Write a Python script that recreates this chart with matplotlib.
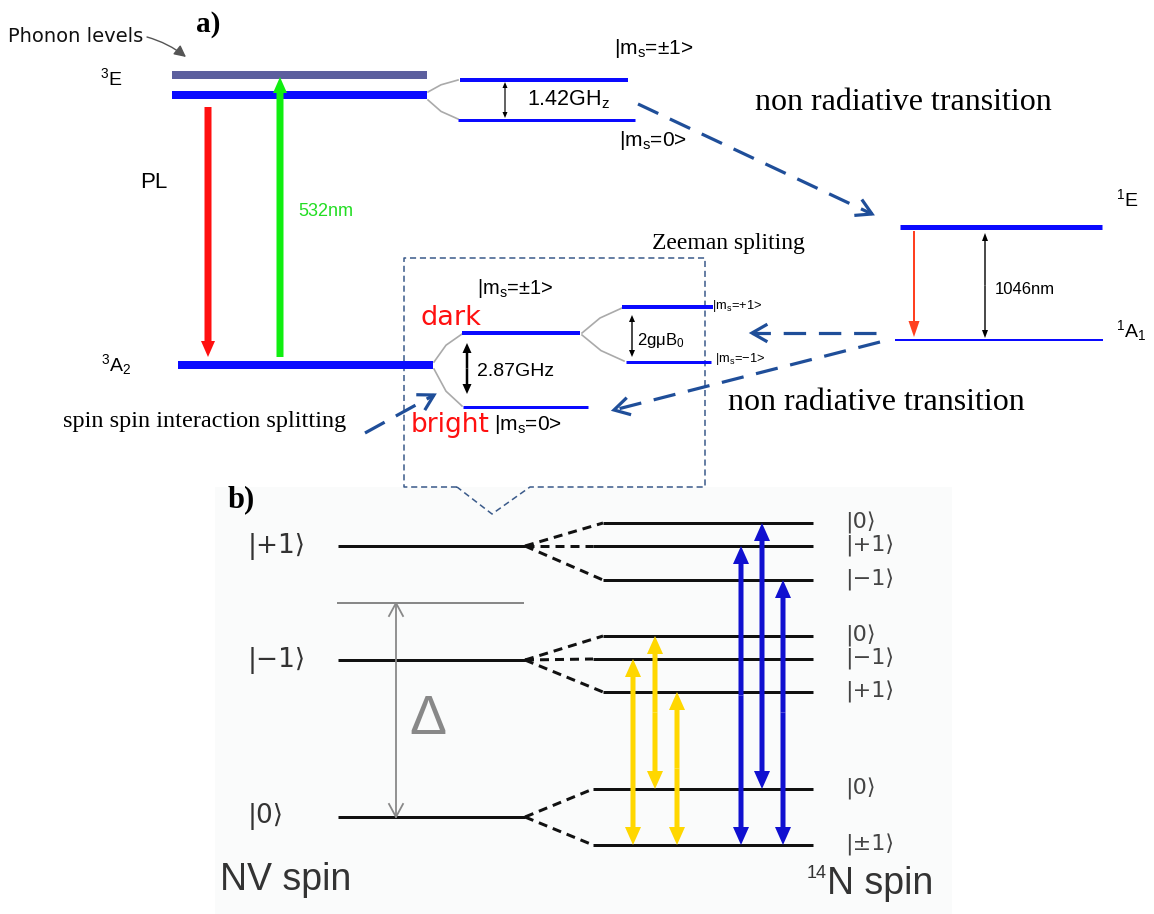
import numpy as np
import matplotlib
matplotlib.use("Agg")
import matplotlib.pyplot as plt
from matplotlib.patches import Rectangle

plt.rcParams['font.family'] = ['Liberation Sans', 'DejaVu Sans']
plt.rcParams['mathtext.fontset'] = 'custom'
plt.rcParams['mathtext.rm'] = 'Liberation Sans'
plt.rcParams['mathtext.it'] = 'Liberation Sans:italic'
plt.rcParams['mathtext.bf'] = 'Liberation Sans:bold'

# ---- panel a: energy levels (x start, x end, y, thickness in px) ----
lvl_a_names = ['phonon', '3E', 'E_pm1', 'E_0', '1E', '1A1', '3A2', 'dark', 'bright', 'ms+1', 'ms-1']
lvl_a_x0 = [172, 172, 460, 458, 900, 895, 178, 462, 463, 622, 626]
lvl_a_x1 = [427, 427, 628, 635, 1102, 1103, 433, 580, 588, 713, 711]
lvl_a_y = [75, 95, 80, 120, 227, 340, 365, 333, 407, 307, 362]
lvl_a_w = [8, 8, 4, 3, 5, 2, 8, 4, 3, 4, 3]

# gray splitting connectors
conn_a = [((428, 92), (458, 80)), ((428, 100), (458, 119)),
          ((434, 362), (462, 334)), ((434, 369), (462, 406)),
          ((582, 333), (622, 308)), ((582, 335), (624, 361))]

# non radiative transitions (start, tip)
nonrad = [((638, 104), (872, 214)), ((876, 333), (752, 333)),
          ((880, 342), (614, 410)), ((365, 433), (434, 395))]

# ---- panel b ----
nv_names = ['|+1\u27e9', '|\u22121\u27e9', '|0\u27e9']
nv_y = [546, 660, 817]
delta_y = 603
n_names = ['|0\u27e9', '|+1\u27e9', '|\u22121\u27e9', '|0\u27e9', '|\u22121\u27e9', '|+1\u27e9', '|0\u27e9', '|\u00b11\u27e9']
n_y = [523, 546, 580, 636, 659, 692, 789, 845]
n_x0 = [603, 593, 603, 603, 593, 603, 593, 593]
n_parent = [0, 0, 0, 1, 1, 1, 2, 2]
# transitions: x, lower y, upper y
yellow_x = [633, 655, 677]
yellow_lo = [845, 789, 845]
yellow_hi = [659, 636, 692]
blue_x = [741, 762, 783]
blue_lo = [845, 789, 845]
blue_hi = [546, 523, 580]

navy = '#1f4e99'

fig = plt.figure(figsize=(11.54, 9.14), dpi=100)
ax = fig.add_axes([0, 0, 1, 1])
ax.set_xlim(0, 1154)
ax.set_ylim(914, 0)
ax.axis('off')


def px(v):
    return v * 72 / 100


def v_arrow(x, y0, y1, w, hw, hl, color, both=False, z=3):
    if both:
        ym = (y0 + y1) / 2
        for ye in (y0, y1):
            ax.arrow(x, ym, 0, ye - ym, width=w, head_width=hw, head_length=hl,
                     length_includes_head=True, color=color, lw=0, zorder=z)
    else:
        ax.arrow(x, y0, 0, y1 - y0, width=w, head_width=hw, head_length=hl,
                 length_includes_head=True, color=color, lw=0, zorder=z)


def chevron(p0, p1, color, lw, L=14, W=8):
    p0, p1 = np.array(p0, float), np.array(p1, float)
    d = (p1 - p0) / np.linalg.norm(p1 - p0)
    n = np.array([-d[1], d[0]])
    pts = np.array([p1 - L * d + W * n, p1, p1 - L * d - W * n])
    ax.plot(pts[:, 0], pts[:, 1], color=color, lw=lw, solid_joinstyle='miter', zorder=4)


# panel b background
ax.add_patch(Rectangle((215, 487), 737, 427, facecolor='#fafbfb', edgecolor='none', zorder=0))

# panel a levels
for name, x0, x1, y, w in zip(lvl_a_names, lvl_a_x0, lvl_a_x1, lvl_a_y, lvl_a_w):
    c = '#5c5f9e' if name == 'phonon' else '#0a0aff'
    ax.plot([x0, x1], [y, y], color=c, lw=px(w), solid_capstyle='butt', zorder=2)

for (a, b) in conn_a:
    xm = (a[0] + b[0]) / 2
    ym = (a[1] + b[1]) / 2
    ax.plot([a[0], xm - 2, b[0]], [a[1], ym + (b[1] - a[1]) * 0.1, b[1]], color='#aaaaaa', lw=1.2, zorder=1)

# PL and excitation
v_arrow(208, 107, 357, 7, 14, 16, '#ff1010')
v_arrow(280, 357, 77, 7, 14, 16, '#10ee10')
v_arrow(914, 231, 337, 2, 11, 16, '#ff4020')
v_arrow(985, 233, 338, 1.4, 6, 8, 'black', both=True)
v_arrow(505, 82, 118, 1.2, 5, 6, 'black', both=True)
v_arrow(467, 343, 394, 2.5, 9, 10, 'black', both=True)
v_arrow(632, 315, 357, 1.4, 6, 7, 'black', both=True)

for p0, p1 in nonrad:
    ax.plot([p0[0], p1[0]], [p0[1], p1[1]], color=navy, lw=px(3.2), dashes=(7, 4),
            solid_capstyle='butt', dash_capstyle='butt', zorder=4)
    chevron(p0, p1, navy, px(3.2))

# dashed zoom box
bx = [457, 404, 404, 705, 705, 530, 492, 457]
by = [487, 487, 258, 258, 487, 487, 514, 487]
ax.plot(bx, by, color='#3a5a8a', lw=1.1, dashes=(4, 2.5), zorder=1)

# phonon pointer
ax.annotate('', xy=(186, 57), xytext=(147, 37),
            arrowprops=dict(arrowstyle='-|>,head_length=0.5,head_width=0.25', color='#555555',
                            lw=1.0, shrinkA=0, shrinkB=0, mutation_scale=14,
                            connectionstyle='arc3,rad=-0.1'), zorder=3)

serif = 'Liberation Serif'

# panel a texts
ax.text(8, 37, 'Phonon levels', fontsize=14, family='DejaVu Sans', va='center', ha='left', color='#111111')
ax.text(196, 25, 'a)', fontsize=21, fontweight='bold', family=serif, va='center')
ax.text(100, 78, '$^3$E', fontsize=14, va='center')
ax.text(140, 182, 'PL', fontsize=16, va='center')
ax.text(298, 211, '532nm', fontsize=13, va='center', color='#22dd22')
ax.text(527, 100, '1.42GH$_\\mathrm{z}$', fontsize=15.5, va='center')
ax.text(614, 48, '|m$_\\mathrm{s}$=\u00b11>', fontsize=15, va='center')
ax.text(619, 141, '|m$_\\mathrm{s}$=0>', fontsize=15, va='center')
ax.text(755, 103, 'non radiative transition', fontsize=23, family=serif, va='center')
ax.text(728, 402, 'non radiative transition', fontsize=23, family=serif, va='center')
ax.text(1116, 199, '$^1$E', fontsize=14, va='center')
ax.text(1116, 331, '$^1$A$_1$', fontsize=14, va='center')
ax.text(995, 289, '1046nm', fontsize=12, va='center')
ax.text(652, 243, 'Zeeman spliting', fontsize=17, family=serif, va='center')
ax.text(101, 365, '$^3$A$_2$', fontsize=14, va='center')
ax.text(420, 318, 'dark', fontsize=19.5, family='DejaVu Sans', color='#ff1010', va='center')
ax.text(411, 425, 'bright', fontsize=19, family='DejaVu Sans', color='#ff1010', va='center')
ax.text(477, 289, '|m$_\\mathrm{s}$=\u00b11>', fontsize=14.5, va='center')
ax.text(477, 372, '2.87GHz', fontsize=14, va='center')
ax.text(494, 425, '|m$_\\mathrm{s}$=0>', fontsize=15, va='center')
ax.text(712, 306, '|m$_\\mathrm{s}$=+1>', fontsize=9.3, va='center')
ax.text(715, 359, '|m$_\\mathrm{s}$=\u22121>', fontsize=9.3, va='center')
ax.text(637, 340, '2g\u03bcB$_0$', fontsize=12, va='center')
ax.text(63, 421, 'spin spin interaction splitting', fontsize=17.5, family=serif, va='center')

# panel b levels
for nm, y in zip(nv_names, nv_y):
    ax.plot([338, 525], [y, y], color='#111111', lw=px(3), solid_capstyle='butt', zorder=2)
    ax.text(248, y, nm, fontsize=19, family=['DejaVu Sans'], color='#333333', va='center')
ax.plot([338, 523], [delta_y, delta_y], color='#888888', lw=px(2), zorder=2)

for nm, y, x0, par in zip(n_names, n_y, n_x0, n_parent):
    ax.plot([x0, 813], [y, y], color='#111111', lw=px(3), solid_capstyle='butt', zorder=2)
    yp = nv_y[par]
    ax.plot([525, x0], [yp, y], color='#111111', lw=px(3), dashes=(3, 2), zorder=2)
    ax.text(845, y, nm, fontsize=16, family=['DejaVu Sans'], color='#444444', va='center')

# Delta arrow
ax.plot([396, 396], [delta_y, nv_y[2]], color='#888888', lw=1.3, zorder=2)
chevron((396, nv_y[2]), (396, delta_y), '#888888', 1.3, L=13, W=7)
chevron((396, delta_y), (396, nv_y[2]), '#888888', 1.3, L=13, W=7)
ax.text(428, 720, '\u0394', fontsize=40, color='#888888', ha='center', va='center')

for x, lo, hi in zip(yellow_x, yellow_lo, yellow_hi):
    v_arrow(x, lo, hi, 5, 16, 18, '#ffd700', both=True)
for x, lo, hi in zip(blue_x, blue_lo, blue_hi):
    v_arrow(x, lo, hi, 5, 16, 18, '#1010d0', both=True)

ax.text(228, 500, 'b)', fontsize=22, fontweight='bold', family=serif, va='center')
ax.text(220, 880, 'NV spin', fontsize=27, color='#333333', va='center')
ax.text(807, 873, '14', fontsize=13, color='#333333', va='center')
ax.text(827, 884, 'N spin', fontsize=27, color='#333333', va='center')

fig.savefig('out.png', dpi=100)
